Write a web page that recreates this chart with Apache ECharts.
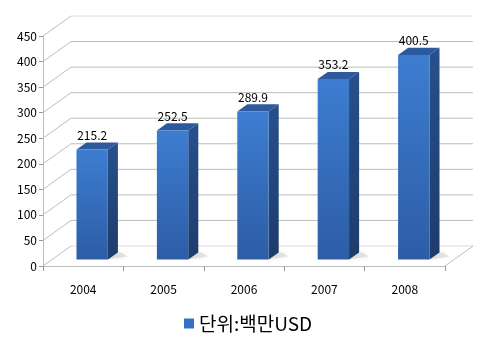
<!DOCTYPE html>
<html><head><meta charset="utf-8">
<script src="https://cdn.jsdelivr.net/npm/echarts@6/dist/echarts.min.js"></script>
<style>html,body{margin:0;padding:0;background:#fff}#c{width:480px;height:360px}</style>
</head><body><div id="c"></div>
<script>
const categories = ['2004','2005','2006','2007','2008'];
const values = [215.2, 252.5, 289.9, 353.2, 400.5];
const yTicks = [0,50,100,150,200,250,300,350,400,450];
const seriesName = '단위:백만USD';

const DX = 28, DY = -20;       // wall depth offset (px)
const F0 = 0.32, F1 = 0.68;    // bar depth position fraction
const FONT = '"Noto Sans CJK KR","Noto Sans",sans-serif';

const chart = echarts.init(document.getElementById('c'), null, {renderer:'canvas'});

function wallItem(params, api){
  const cs = params.coordSys;
  const v = api.value(1);
  const y = api.coord([0, v])[1];
  const x0 = cs.x, x1 = cs.x + cs.width;
  const children = [];
  const light = v === 0 || v === 450;
  children.push({type:'line', shape:{x1:x0+DX, y1:y+DY, x2:x1+DX, y2:y+DY},
    style:{stroke: light ? '#dcdcdc' : '#bdbdbd', lineWidth:1}});
  children.push({type:'line', shape:{x1:x0, y1:y, x2:x0+DX, y2:y+DY},
    style:{stroke:'#bdbdbd', lineWidth:1}});
  if (v === 0){
    children.push({type:'line', shape:{x1:x1, y1:y, x2:x1+DX, y2:y+DY},
      style:{stroke:'#bdbdbd', lineWidth:1}});
  }
  return {type:'group', children};
}

function barItem(params, api){
  const c = api.value(0), v = api.value(1);
  const base = api.coord([c, 0]);
  const top = api.coord([c, v]);
  const bw = api.size([1, 0])[0];
  const w = bw * 0.39;
  const fx = DX*F0, fy = DY*F0;
  const dd = DX*(F1-F0), ddy = DY*(F1-F0);
  const x0 = base[0] - w/2 + fx, x1 = x0 + w;
  const yb = base[1] + fy, yt = top[1] + fy;
  return {type:'group', children:[
    {type:'polygon', shape:{points:[[x1,yb],[x1+dd+10,yb-3],[x1+dd+3,yb+ddy],[x1,yb+ddy]]},
      style:{fill:'rgba(150,150,150,0.25)', shadowBlur:5, shadowColor:'rgba(140,140,140,0.4)'}},
    {type:'polygon', shape:{points:[[x1,yt],[x1+dd,yt+ddy],[x1+dd,yb+ddy],[x1,yb]]},
      style:{fill:new echarts.graphic.LinearGradient(0,0,0,1,[{offset:0,color:'#27508c'},{offset:1,color:'#1d3c6c'}])}},
    {type:'polygon', shape:{points:[[x0,yt],[x1,yt],[x1+dd,yt+ddy],[x0+dd,yt+ddy]]},
      style:{fill:'#2c5a9c'}},
    {type:'rect', shape:{x:x0, y:yt, width:w, height:yb-yt},
      style:{fill:new echarts.graphic.LinearGradient(0,0,0,1,[{offset:0,color:'#3d7dd0'},{offset:1,color:'#2d5da6'}])}},
    {type:'text', style:{text:String(v), x:(x0+x1)/2, y:yt+ddy-1, align:'center', verticalAlign:'bottom',
      fill:'#000', font:'12px '+FONT}}
  ]};
}

chart.setOption({
  animation:false,
  backgroundColor:'#fff',
  grid:{left:43, right:35, top:36, bottom:94},
  legend:{show:true, bottom:22, left:179, itemWidth:10, itemHeight:10, itemGap:8,
    icon:'rect', textStyle:{fontSize:19, color:'#000', fontFamily:FONT},
    data:[{name:seriesName, itemStyle:{color:'#3470c4'}}]},
  xAxis:{type:'category', data:categories, boundaryGap:true,
    axisLine:{show:true, lineStyle:{color:'#bdbdbd'}},
    axisTick:{show:true, length:5, lineStyle:{color:'#999'}},
    axisLabel:{color:'#000', fontSize:12, fontFamily:FONT, margin:17},
    splitLine:{show:false}},
  yAxis:{type:'value', min:0, max:450, interval:50,
    axisLine:{show:true, lineStyle:{color:'#bdbdbd'}},
    axisTick:{show:true, length:4, lineStyle:{color:'#999'}},
    axisLabel:{color:'#000', fontSize:12, fontFamily:FONT, margin:6},
    splitLine:{show:false}},
  series:[
    {type:'custom', name:'walls', silent:true, renderItem:wallItem,
      data:yTicks.map(t=>[0,t]), encode:{x:0,y:1}, z:1},
    {type:'custom', name:seriesName, renderItem:barItem, itemStyle:{color:'#3470c4'},
      data:values.map((v,i)=>[i,v]), encode:{x:0,y:1}, z:5}
  ]
});
</script></body></html>
